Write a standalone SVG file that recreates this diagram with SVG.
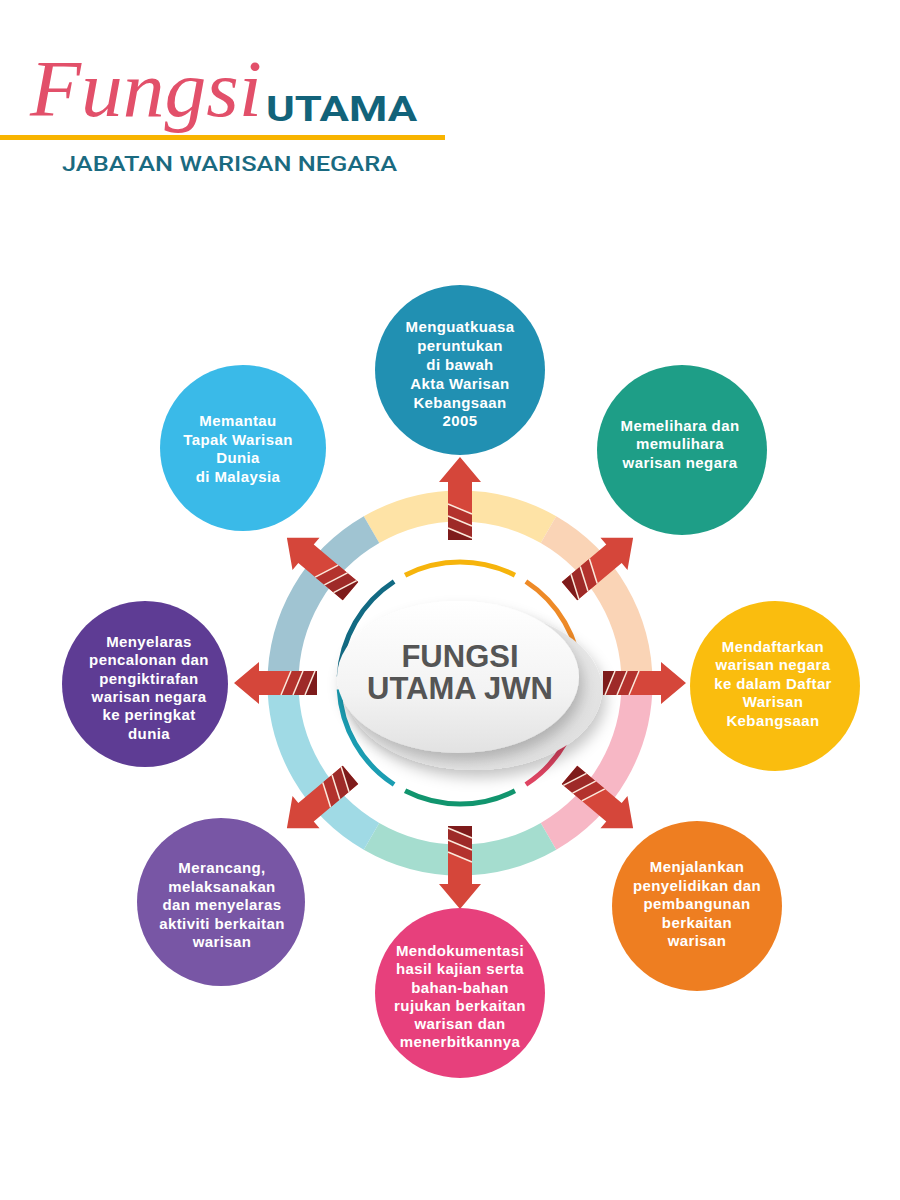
<svg xmlns="http://www.w3.org/2000/svg" width="900" height="1200" viewBox="0 0 900 1200">
<style>
.ct{font-family:"Liberation Sans",Arial,sans-serif;font-weight:bold;font-size:15px;fill:#fff;text-anchor:middle;letter-spacing:0.4px}
.seg{fill:none;stroke-width:31}
.arc{fill:none;stroke-width:5}
</style>
<defs>
<linearGradient id="eg" x1="0" y1="0" x2="0" y2="1">
<stop offset="0" stop-color="#ffffff"/>
<stop offset="0.6" stop-color="#f3f3f3"/>
<stop offset="1" stop-color="#e2e2e2"/>
</linearGradient>
<linearGradient id="eg2" x1="0" y1="0" x2="1" y2="1">
<stop offset="0" stop-color="#f7f7f7"/>
<stop offset="1" stop-color="#dcdcdc"/>
</linearGradient>
<filter id="sh" x="-20%" y="-20%" width="140%" height="150%">
<feDropShadow dx="4" dy="8" stdDeviation="7" flood-color="#000" flood-opacity="0.22"/>
</filter>
<g id="arrow">
<path d="M143,-12 L201,-12 L201,-21 L226,0 L201,21 L201,12 L143,12 Z" fill="#D5463A"/>
<polygon points="143,12 145,12 155,-12 143,-12" fill="#7E1B1B"/>
<polygon points="145,12 157,12 167,-12 155,-12" fill="#9E2A28"/>
<polygon points="157,12 169,12 179,-12 167,-12" fill="#B3322D"/>
<g stroke="#FBE9DC" stroke-width="1.5">
<line x1="145" y1="12" x2="155" y2="-12"/>
<line x1="157" y1="12" x2="167" y2="-12"/>
<line x1="169" y1="12" x2="179" y2="-12"/>
</g>
</g>
</defs>
<rect width="900" height="1200" fill="#fff"/>

<g id="title">
<text x="30" y="116" font-family="'Liberation Serif',serif" font-style="italic" font-size="80" fill="#E2506A" textLength="232" lengthAdjust="spacingAndGlyphs">Fungsi</text>
<text x="266" y="121" font-family="Roboto,'Liberation Sans',sans-serif" font-weight="bold" font-size="35" fill="#12637A" textLength="151" lengthAdjust="spacingAndGlyphs">UTAMA</text>
<rect x="0" y="135" width="445" height="5" fill="#F8B400"/>
<text x="62" y="171" font-family="Roboto,'Liberation Sans',sans-serif" font-weight="500" font-size="21" fill="#1A6A80" textLength="335" lengthAdjust="spacingAndGlyphs">JABATAN WARISAN NEGARA</text>
</g>

<g id="ring">
<path class="seg" stroke="#FEE3A6" d="M371.5,529.7 A177,177 0 0 1 548.5,529.7"/>
<path class="seg" stroke="#FAD4B6" d="M548.5,529.7 A177,177 0 0 1 637,683"/>
<path class="seg" stroke="#F7B7C5" d="M637,683 A177,177 0 0 1 548.5,836.3"/>
<path class="seg" stroke="#A5DDCF" d="M548.5,836.3 A177,177 0 0 1 371.5,836.3"/>
<path class="seg" stroke="#A0DAE5" d="M371.5,836.3 A177,177 0 0 1 283,683"/>
<path class="seg" stroke="#A0C4D2" d="M283,683 A177,177 0 0 1 371.5,529.7"/>
</g>

<g id="inner-arcs">
<path class="arc" stroke="#F6B40C" d="M405.1,575.2 A121,121 0 0 1 514.9,575.2"/>
<path class="arc" stroke="#EE8A27" d="M525.9,581.5 A121,121 0 0 1 580.8,676.7"/>
<path class="arc" stroke="#E14563" d="M580.8,689.3 A121,121 0 0 1 525.9,784.5"/>
<path class="arc" stroke="#11956E" d="M514.9,790.8 A121,121 0 0 1 405.1,790.8"/>
<path class="arc" stroke="#1B9DB2" d="M394.1,784.5 A121,121 0 0 1 339.2,689.3"/>
<path class="arc" stroke="#126A83" d="M339.2,676.7 A121,121 0 0 1 394.1,581.5"/>
</g>

<g id="center">
<ellipse cx="474" cy="690" rx="128" ry="80" fill="url(#eg2)" filter="url(#sh)"/>
<ellipse cx="458" cy="677" rx="121" ry="76" fill="url(#eg)" filter="url(#sh)"/>
<text x="460" y="667" font-family="'Liberation Sans',Arial,sans-serif" font-weight="bold" font-size="31" fill="#555" text-anchor="middle">FUNGSI</text>
<text x="460" y="699" font-family="'Liberation Sans',Arial,sans-serif" font-weight="bold" font-size="31" fill="#555" text-anchor="middle">UTAMA JWN</text>
</g>

<g id="connectors">
<use href="#arrow" transform="translate(460,683) rotate(0)"/>
<use href="#arrow" transform="translate(460,683) rotate(40)"/>
<use href="#arrow" transform="translate(460,683) rotate(90)"/>
<use href="#arrow" transform="translate(460,683) rotate(140)"/>
<use href="#arrow" transform="translate(460,683) rotate(180)"/>
<use href="#arrow" transform="translate(460,683) rotate(220)"/>
<use href="#arrow" transform="translate(460,683) rotate(270)"/>
<use href="#arrow" transform="translate(460,683) rotate(320)"/>
</g>

<g id="node-top">
<circle cx="460" cy="370" r="85" fill="#2190B2"/>
<text class="ct" x="460" y="332">Menguatkuasa</text>
<text class="ct" x="460" y="351">peruntukan</text>
<text class="ct" x="460" y="370">di bawah</text>
<text class="ct" x="460" y="389">Akta Warisan</text>
<text class="ct" x="460" y="408">Kebangsaan</text>
<text class="ct" x="460" y="426">2005</text>
</g>

<g id="node-upper-left">
<circle cx="243" cy="448" r="83" fill="#3ABAE8"/>
<text class="ct" x="238" y="426">Memantau</text>
<text class="ct" x="238" y="445">Tapak Warisan</text>
<text class="ct" x="238" y="463">Dunia</text>
<text class="ct" x="238" y="482">di Malaysia</text>
</g>

<g id="node-upper-right">
<circle cx="682" cy="450" r="85" fill="#1E9E87"/>
<text class="ct" x="680" y="431">Memelihara dan</text>
<text class="ct" x="680" y="449">memulihara</text>
<text class="ct" x="680" y="468">warisan negara</text>
</g>

<g id="node-left">
<circle cx="145" cy="684" r="83" fill="#5E3C94"/>
<text class="ct" x="149" y="647">Menyelaras</text>
<text class="ct" x="149" y="665">pencalonan dan</text>
<text class="ct" x="149" y="684">pengiktirafan</text>
<text class="ct" x="149" y="702">warisan negara</text>
<text class="ct" x="149" y="720">ke peringkat</text>
<text class="ct" x="149" y="739">dunia</text>
</g>

<g id="node-right">
<circle cx="775" cy="686" r="85" fill="#FABD0E"/>
<text class="ct" x="773" y="652">Mendaftarkan</text>
<text class="ct" x="773" y="670">warisan negara</text>
<text class="ct" x="773" y="689">ke dalam Daftar</text>
<text class="ct" x="773" y="707">Warisan</text>
<text class="ct" x="773" y="726">Kebangsaan</text>
</g>

<g id="node-lower-left">
<circle cx="221" cy="902" r="84" fill="#7856A5"/>
<text class="ct" x="222" y="873">Merancang,</text>
<text class="ct" x="222" y="892">melaksanakan</text>
<text class="ct" x="222" y="910">dan menyelaras</text>
<text class="ct" x="222" y="929">aktiviti berkaitan</text>
<text class="ct" x="222" y="947">warisan</text>
</g>

<g id="node-lower-right">
<circle cx="697" cy="906" r="85" fill="#EE7E21"/>
<text class="ct" x="697" y="872">Menjalankan</text>
<text class="ct" x="697" y="891">penyelidikan dan</text>
<text class="ct" x="697" y="909">pembangunan</text>
<text class="ct" x="697" y="928">berkaitan</text>
<text class="ct" x="697" y="946">warisan</text>
</g>

<g id="node-bottom">
<circle cx="460" cy="993" r="85" fill="#E7407C"/>
<text class="ct" x="460" y="956">Mendokumentasi</text>
<text class="ct" x="460" y="974">hasil kajian serta</text>
<text class="ct" x="460" y="993">bahan-bahan</text>
<text class="ct" x="460" y="1011">rujukan berkaitan</text>
<text class="ct" x="460" y="1029">warisan dan</text>
<text class="ct" x="460" y="1047">menerbitkannya</text>
</g>
</svg>
